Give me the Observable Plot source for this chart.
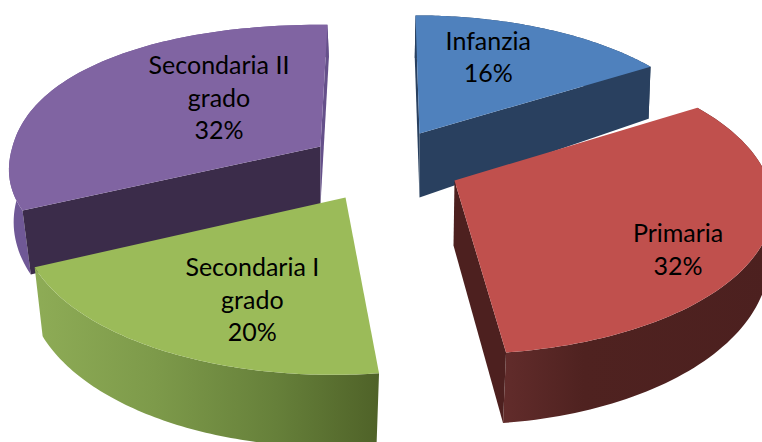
<!DOCTYPE html>
<html>
<head>
<meta charset="utf-8">
<script src="https://cdn.jsdelivr.net/npm/d3@7"></script>
<script src="https://cdn.jsdelivr.net/npm/@observablehq/plot@0.6"></script>
<style>html,body{margin:0;padding:0;background:#fff;overflow:hidden}svg{display:block}</style>
</head>
<body>
<div id="chart"></div>
<script>
const categories = ["Infanzia", "Primaria", "Secondaria I grado", "Secondaria II grado"];
const labelLines = [["Infanzia"], ["Primaria"], ["Secondaria I", "grado"], ["Secondaria II", "grado"]];
const shares = [16, 32, 20, 32];

// Colours of the four slices
const topColors = ["#4f81bd", "#c0504d", "#9bbb59", "#8064a2"];
const rimColors = ["#29405f", "url(#rimRed)", "url(#rimGreen)", "#6f5896"];
const startWallColors = ["#29405f", null, null, "#3b2c4a"];
const endWallColors = ["#29405f", "#4d201f", null, "#65508a"];

// Perspective of each exploded slice: upper disc, lower disc, label offset
const views = [
  {top: {cx: 419, cy: 133, rx: 295, ry: 133, k: .126, s: .034}, low: {cx: 419, cy: 197, rx: 293, ry: 157, k: .126, s: .034}, dx: -9, dy: -10},
  {top: {cx: 454, cy: 180, rx: 314, ry: 147, k: .153, s: .03},  low: {cx: 453, cy: 245, rx: 315, ry: 170, k: .05,  s: .045}, dx: 45, dy: 31},
  {top: {cx: 345, cy: 197, rx: 320, ry: 155, k: .126, s: -.07}, low: {cx: 345, cy: 262, rx: 315, ry: 166, k: .1,   s: -.07}, dx: 12, dy: 16},
  {top: {cx: 320, cy: 146, rx: 308, ry: 134, k: .1, s: -.057, p: .92}, low: {cx: 320, cy: 204, rx: 305, ry: 159, k: .08, s: -.057}, dx: 49, dy: -4}
];
const lineHeight = 32.7;

const project = (d, theta, r = 1) => {
  const p = d.p || 1;
  const sin = Math.sin(theta), cos = Math.cos(theta);
  const u = r * Math.sign(sin) * Math.abs(sin) ** p, v = r * Math.sign(cos) * Math.abs(cos) ** p, w = 1 + d.k * v;
  const y = -d.ry * v / w;
  return {px: d.cx + d.rx * u / w + d.s * y, py: d.cy + y};
};
const arcOf = (d, a0, a1) => d3.range(81).map(i => project(d, a0 + (a1 - a0) * i / 80));

const angles = d3.pie().sort(null).value(d => d)(shares);
const polys = [], labels = [];
const add = (points, fill) => {
  const id = polys.length ? polys[polys.length - 1].id + 1 : 0;
  points.forEach(p => polys.push({...p, id, fill}));
};
[0, 3, 2, 1].forEach(i => {
  const {startAngle: a0, endAngle: a1} = angles[i], {top, low} = views[i];
  add([...arcOf(top, a0, a1), ...arcOf(low, a0, a1).reverse()], rimColors[i]);
  if (startWallColors[i]) add([project(top, a0, 0), project(top, a0), project(low, a0), project(low, a0, 0)], startWallColors[i]);
  if (endWallColors[i]) add([project(top, a1, 0), project(top, a1), project(low, a1), project(low, a1, 0)], endWallColors[i]);
  add([project(top, a0, 0), ...arcOf(top, a0, a1)], topColors[i]);
  const c = project(top, (a0 + a1) / 2, .6);
  const lines = [...labelLines[i], shares[i] + "%"];
  lines.forEach((text, j) => labels.push({
    text,
    px: c.px + views[i].dx,
    py: c.py + views[i].dy + (j - (lines.length - 1) / 2) * lineHeight
  }));
});

const gradients = () => {
  const defs = d3.create("svg:defs");
  const grad = (id, stops) => {
    const g = defs.append("linearGradient").attr("id", id).attr("x1", 0).attr("x2", 1).attr("y1", 0).attr("y2", 0);
    stops.forEach(([o, c]) => g.append("stop").attr("offset", o).attr("stop-color", c));
  };
  grad("rimGreen", [[0, "#8eac56"], [.35, "#7d9a4a"], [.7, "#66803a"], [1, "#4f6228"]]);
  grad("rimRed", [[0, "#622c2b"], [.3, "#4f2220"], [1, "#4c201f"]]);
  return defs.node();
};

const chart = Plot.plot({
  width: 762, height: 442, margin: 0,
  x: {domain: [0, 762], range: [0, 762], axis: null},
  y: {domain: [0, 442], range: [0, 442], axis: null},
  style: {background: "#fff"},
  marks: [
    gradients,
    ...d3.groups(polys, p => p.id).map(([, pts]) =>
      Plot.line(pts, {x: "px", y: "py", fill: pts[0].fill, stroke: "none", curve: "linear"})),
    Plot.text(labels, {x: "px", y: "py", text: "text", fontFamily: "Lato", fontSize: 25, fill: "#000", textAnchor: "middle", lineAnchor: "middle"})
  ]
});
document.getElementById("chart").appendChild(chart);
</script>
</body>
</html>
